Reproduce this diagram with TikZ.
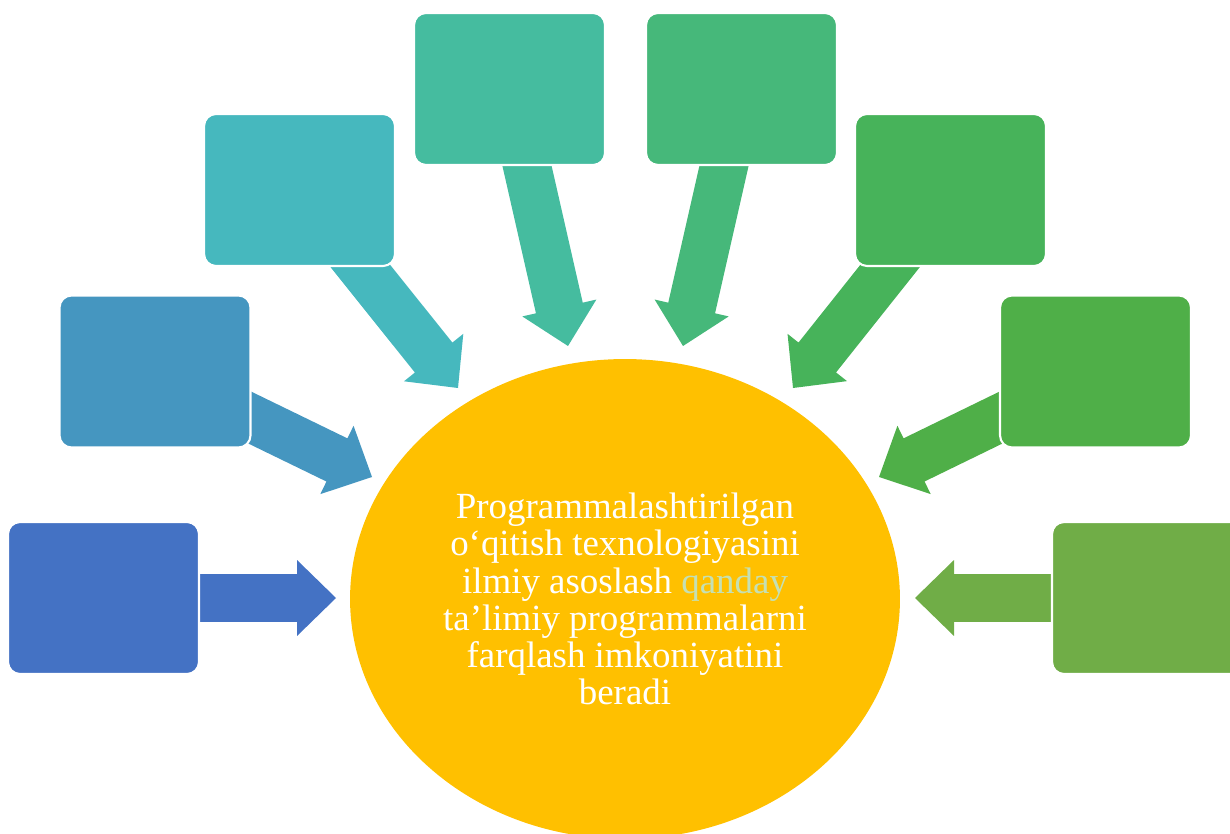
\documentclass[tikz,border=0pt]{standalone}
\usepackage{fontspec}
\setmainfont{Liberation Serif}
\usetikzlibrary{calc,shapes.geometric,backgrounds}
\definecolor{boxa}{HTML}{4472C4}
\definecolor{boxb}{HTML}{4596C0}
\definecolor{boxc}{HTML}{46B8BE}
\definecolor{boxd}{HTML}{45BC9F}
\definecolor{boxe}{HTML}{46B87A}
\definecolor{boxf}{HTML}{47B35A}
\definecolor{boxg}{HTML}{4FAF48}
\definecolor{boxh}{HTML}{70AD47}
\definecolor{core}{HTML}{FFC000}
\definecolor{soft}{HTML}{C5E0B4}

\begin{document}
\begin{tikzpicture}[x=0.02cm, y=-0.02cm,
    card/.style={rectangle, rounded corners=0.24cm, draw=white, line width=1.2pt,
      minimum width=3.82cm, minimum height=3.04cm, inner sep=0pt},
    blockarrow/.style={to path={let \p1=($(\tikztotarget)-(\tikztostart)$),
        \n1={atan2(\y1,\x1)} in
        ($(\tikztostart)+({\n1+90}:0.48cm)$)
        -- ($(\tikztotarget)+({\n1+180}:0.78cm)+({\n1+90}:0.48cm)$)
        -- ($(\tikztotarget)+({\n1+180}:0.78cm)+({\n1+90}:0.76cm)$)
        -- (\tikztotarget)
        -- ($(\tikztotarget)+({\n1+180}:0.78cm)+({\n1-90}:0.76cm)$)
        -- ($(\tikztotarget)+({\n1+180}:0.78cm)+({\n1-90}:0.48cm)$)
        -- ($(\tikztostart)+({\n1-90}:0.48cm)$) -- cycle}}]

    \useasboundingbox (0,0) rectangle (1230,834);

    \node[card, fill=boxa] (a) at (103.5, 598) {};
    \node[card, fill=boxb] (b) at (155, 371.5) {};
    \node[card, fill=boxc] (c) at (299.5, 190) {};
    \node[card, fill=boxd] (d) at (509.5, 89) {};
    \node[card, fill=boxe] (e) at (741.5, 89) {};
    \node[card, fill=boxf] (f) at (950.5, 190) {};
    \node[card, fill=boxg] (g) at (1095.5, 371.5) {};
    \node[card, fill=boxh] (h) at (1147.5, 598) {};

    \node[ellipse, fill=core, minimum width=11cm, minimum height=9.6cm, text=white,
      align=center, font=\fontsize{21}{21.2}\selectfont] (m) at (625, 599)
      {Programmalashtirilgan\\o‘qitish texnologiyasini\\ilmiy asoslash \textcolor{soft}{qanday}\\ta’limiy programmalarni\\farqlash imkoniyatini\\beradi};

    \coordinate (pa) at (336, 598);
    \coordinate (pb) at (372, 477);
    \coordinate (pc) at (458, 388);
    \coordinate (pd) at (568, 346);
    \coordinate (pe) at (683, 346);
    \coordinate (pf) at (793, 388);
    \coordinate (pg) at (879, 477);
    \coordinate (ph) at (915, 598);

    \begin{pgfonlayer}{background}
    \fill [boxa] (a) to[blockarrow] (pa);
    \fill [boxb] (b) to[blockarrow] (pb);
    \fill [boxc] (c) to[blockarrow] (pc);
    \fill [boxd] (d) to[blockarrow] (pd);
    \fill [boxe] (e) to[blockarrow] (pe);
    \fill [boxf] (f) to[blockarrow] (pf);
    \fill [boxg] (g) to[blockarrow] (pg);
    \fill [boxh] (h) to[blockarrow] (ph);
    \end{pgfonlayer}

  \end{tikzpicture}
\end{document}
